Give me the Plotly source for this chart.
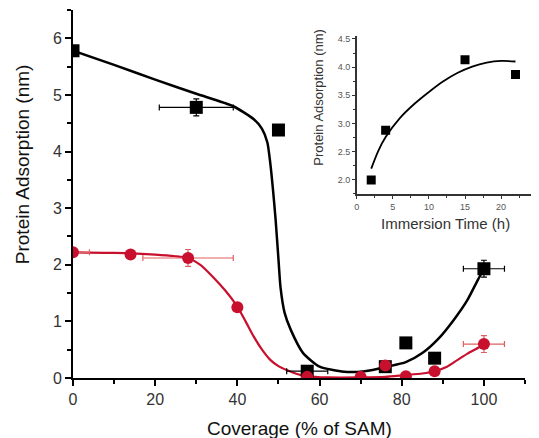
import plotly.graph_objects as go

# Main chart: black squares
black_x = [0, 30, 50, 57, 76, 81, 88, 100]
black_y = [5.78, 4.78, 4.38, 0.12, 0.20, 0.62, 0.35, 1.93]
black_xerr = [0, 9, 0, 5, 0, 0, 0, 5]
black_yerr = [0, 0.15, 0, 0, 0, 0, 0, 0.15]

# Main chart: red circles
red_x = [0, 14, 28, 40, 57, 70, 76, 81, 88, 100]
red_y = [2.22, 2.18, 2.12, 1.25, 0.02, 0.02, 0.22, 0.03, 0.12, 0.60]
red_xerr = [4, 0, 11, 0, 0, 0, 0, 0, 0, 5]
red_yerr = [0, 0, 0.15, 0, 0, 0, 0, 0, 0, 0.15]

# Fit curves
black_fit_x = [0, 10, 20, 30, 39, 44, 46, 47.3, 48, 48.7, 49.3, 50, 50.5, 51.5, 53, 56, 60, 66, 71, 76.5, 81, 85, 89, 92.7, 96, 98.5, 100]
black_fit_y = [5.78, 5.53, 5.27, 5.02, 4.8, 4.57, 4.4, 4.16, 3.8, 3.3, 2.8, 2.1, 1.6, 1.15, 0.85, 0.44, 0.2, 0.11, 0.12, 0.2, 0.28, 0.44, 0.7, 1.03, 1.38, 1.73, 1.93]
red_fit_x = [0, 10, 20, 25, 27.8, 31, 34, 37, 40, 42, 44, 46, 48, 50, 52, 54.5, 57, 62, 70, 76, 80.5, 85, 88, 91, 93.6, 96, 98.5, 100]
red_fit_y = [2.22, 2.21, 2.18, 2.15, 2.12, 2.0, 1.79, 1.55, 1.26, 1.0, 0.73, 0.5, 0.32, 0.21, 0.14, 0.07, 0.03, 0.01, 0.01, 0.02, 0.05, 0.08, 0.12, 0.2, 0.32, 0.43, 0.53, 0.6]

# Inset
inset_x = [2, 4, 15, 22]
inset_y = [2.0, 2.88, 4.13, 3.87]
inset_fit_x = [2, 3, 4, 6, 8, 10, 12, 14, 16, 18, 20, 22]
inset_fit_y = [2.2, 2.52, 2.76, 3.1, 3.35, 3.56, 3.75, 3.9, 4.01, 4.08, 4.11, 4.1]

main_ticks_y = [0, 1, 2, 3, 4, 5, 6]
main_ticks_x = [0, 20, 40, 60, 80, 100]
inset_ticks_y = [2.0, 2.5, 3.0, 3.5, 4.0, 4.5]
inset_ticks_x = [0, 5, 10, 15, 20, 25]

BLACK = "#000000"
RED = "#c8102e"
RED_ERR = "#e0605f"

fig = go.Figure()

fig.add_trace(go.Scatter(x=black_fit_x, y=black_fit_y, mode="lines",
                         line=dict(color=BLACK, width=2.5, shape="spline", smoothing=0.6),
                         xaxis="x", yaxis="y", showlegend=False, hoverinfo="skip"))
fig.add_trace(go.Scatter(x=red_fit_x, y=red_fit_y, mode="lines",
                         line=dict(color=RED, width=2.2, shape="spline", smoothing=0.6),
                         xaxis="x", yaxis="y", showlegend=False, hoverinfo="skip"))
fig.add_trace(go.Scatter(x=black_x, y=black_y, mode="markers",
                         marker=dict(symbol="square", size=13, color=BLACK),
                         error_x=dict(type="data", array=black_xerr, color=BLACK, thickness=1.2, width=3),
                         error_y=dict(type="data", array=black_yerr, color=BLACK, thickness=1.2, width=3),
                         xaxis="x", yaxis="y", showlegend=False))
fig.add_trace(go.Scatter(x=red_x, y=red_y, mode="markers",
                         marker=dict(symbol="circle", size=12, color=RED),
                         error_x=dict(type="data", array=red_xerr, color=RED_ERR, thickness=1.2, width=3),
                         error_y=dict(type="data", array=red_yerr, color=RED_ERR, thickness=1.2, width=3),
                         xaxis="x", yaxis="y", showlegend=False))

fig.add_trace(go.Scatter(x=inset_fit_x, y=inset_fit_y, mode="lines",
                         line=dict(color=BLACK, width=1.8, shape="spline", smoothing=0.8),
                         xaxis="x2", yaxis="y2", showlegend=False, hoverinfo="skip"))
fig.add_trace(go.Scatter(x=inset_x, y=inset_y, mode="markers",
                         marker=dict(symbol="square", size=9, color=BLACK),
                         xaxis="x2", yaxis="y2", showlegend=False))

font_family = "Liberation Sans, Arial, sans-serif"

fig.update_layout(
    width=531, height=430,
    margin=dict(l=65, r=0, t=2, b=60, autoexpand=False),
    paper_bgcolor="white", plot_bgcolor="white",
    font=dict(family=font_family, color="#222"),
    xaxis=dict(domain=[0, 0.97], range=[0, 110], tickvals=main_ticks_x, automargin=False,
               showgrid=False, zeroline=False, showline=True, linecolor=BLACK, linewidth=2,
               ticks="outside", ticklen=6, tickwidth=1.5, tickcolor=BLACK,
               minor=dict(dtick=10, tick0=0, ticks="outside", ticklen=4, tickcolor=BLACK),
               tickfont=dict(size=16, color="#333")),
    yaxis=dict(domain=[0, 1], range=[0, 6.5], tickvals=main_ticks_y, automargin=False,
               showgrid=False, zeroline=False, showline=True, linecolor=BLACK, linewidth=2,
               ticks="outside", ticklen=6, tickwidth=1.5, tickcolor=BLACK,
               minor=dict(dtick=0.5, tick0=0, ticks="outside", ticklen=4, tickcolor=BLACK),
               tickfont=dict(size=16, color="#333")),
    xaxis2=dict(domain=[0.609, 0.996], range=[0, 25], tickvals=inset_ticks_x, anchor="y2", automargin=False,
                showgrid=False, zeroline=False, showline=True, linecolor="#333", linewidth=1.5,
                ticks="outside", ticklen=3, tickwidth=1, tickcolor="#333",
                minor=dict(dtick=2.5, tick0=0, ticks="outside", ticklen=2, tickcolor="#333"),
                tickfont=dict(size=9, color="#555")),
    yaxis2=dict(domain=[0.5, 0.929], range=[1.75, 4.55], tickvals=inset_ticks_y, anchor="x2", automargin=False,
                tickformat=".1f",
                showgrid=False, zeroline=False, showline=True, linecolor="#333", linewidth=1.5,
                ticks="outside", ticklen=3, tickwidth=1, tickcolor="#333",
                minor=dict(dtick=0.25, tick0=0, ticks="outside", ticklen=2, tickcolor="#333"),
                tickfont=dict(size=9, color="#555")),
    annotations=[
        dict(text="Coverage (% of SAM)", xref="paper", yref="paper", x=0.485, y=-0.136,
             xanchor="center", yanchor="middle", showarrow=False, font=dict(size=19, color="#111")),
        dict(text="Protein Adsorption (nm)", xref="paper", yref="paper", x=-0.109, y=0.5815,
             textangle=-90, xanchor="center", yanchor="middle", showarrow=False, font=dict(size=19, color="#111")),
        dict(text="Immersion Time (h)", xref="paper", yref="paper", x=0.800, y=0.421,
             xanchor="center", yanchor="middle", showarrow=False, font=dict(size=15, color="#333")),
        dict(text="Protein Adsorption (nm)", xref="paper", yref="paper", x=0.526, y=0.762,
             textangle=-90, xanchor="center", yanchor="middle", showarrow=False, font=dict(size=13, color="#333")),
    ],
)

fig.write_html("out.html")
